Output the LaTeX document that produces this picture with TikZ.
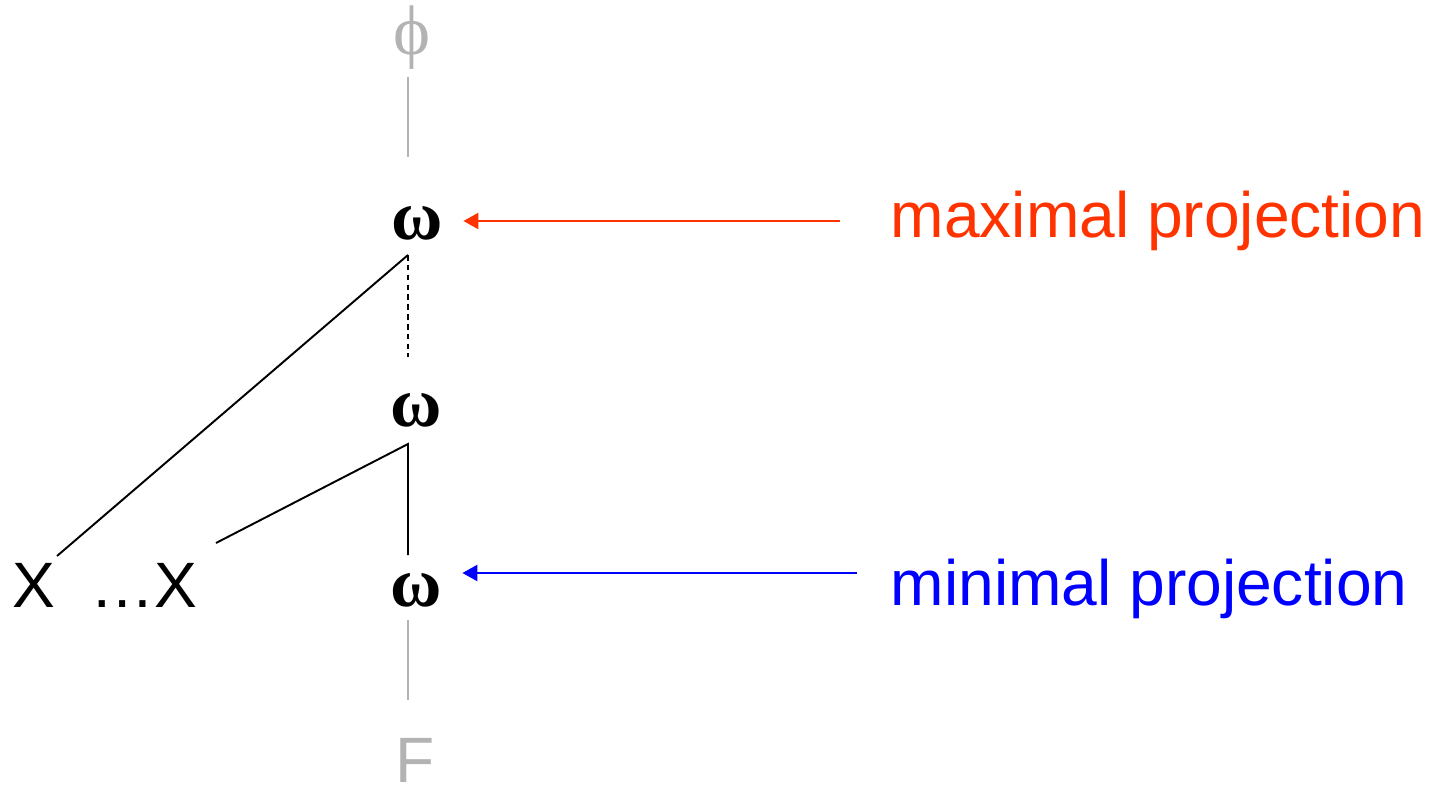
\documentclass[tikz,border=0pt]{standalone}
\usepackage{fontspec}
\setmainfont{Liberation Serif}
\setsansfont{Liberation Sans}
\usepackage{xcolor}
\usepackage{tikz}
\usetikzlibrary{arrows.meta,calc}
\definecolor{maxred}{HTML}{FF3300}
\definecolor{minblue}{HTML}{0000FF}
\definecolor{faint}{HTML}{B3B3B3}
\tikzset{
  cat/.style={inner sep=0pt, font=\bfseries\fontsize{20}{22}\selectfont},
  word/.style={inner sep=0pt, anchor=base west, font=\sffamily\fontsize{18.25}{22}\selectfont},
  branch/.style={line width=0.55pt, black},
  spine/.style={line width=0.7pt, faint},
  projflow/.style={-{Triangle[length=1.5mm, width=1.6mm]}, line width=0.7pt}
}

\begin{document}
\begin{tikzpicture}[x=1cm,y=1cm]
  \useasboundingbox (0,0) rectangle (14.31,7.90);

  \node[cat, text=faint, font=\fontsize{20}{22}\selectfont] (phi) at (4.12,7.52) {ϕ};
  \node[cat] (omtop) at (4.17,5.67) {ω};
  \node[cat] (ommid) at (4.16,3.80) {ω};
  \node[cat] (ombot) at (4.16,2.00) {ω};
  \node[word, anchor=base, text=faint] (eff) at (4.15,0.08) {F};
  \node[word] (xa) at (0.12,1.83) {X};
  \node[word] (xb) at (0.90,1.83) {…X};

  \node[word, text=maxred] (maxlab) at (8.90,5.53) {maximal projection};
  \node[word, text=minblue] (minlab) at (8.90,1.85) {minimal projection};

  \coordinate (phifoot) at (4.08,7.13);
  \coordinate (topcap) at (4.08,6.33);
  \coordinate (topjoin) at (4.08,5.35);
  \coordinate (dashend) at (4.08,4.33);
  \coordinate (midjoin) at (4.08,3.46);
  \coordinate (botcap) at (4.08,2.35);
  \coordinate (botfoot) at (4.08,1.70);
  \coordinate (efftop) at (4.08,0.90);
  \coordinate (xatip) at (0.57,2.34);
  \coordinate (xbtip) at (2.16,2.47);
  \coordinate (maxtail) at (8.40,5.69);
  \coordinate (mintail) at (8.57,2.17);

  % grey spine
  \draw[spine] (phifoot) -- (topcap);
  \draw[spine] (botfoot) -- (efftop);

  % tree
  \draw[branch, line width=0.75pt, dash pattern=on 1.6pt off 1.2pt] (topjoin) -- (dashend);
  \draw[branch] (topjoin) -- (xatip);
  \draw[branch] (xbtip) -- (midjoin) -- (botcap);

  % projection arrows
  \draw[projflow, maxred] (maxtail) -- ($(omtop.east |- maxtail)+(0.2,0)$);
  \draw[projflow, minblue] (mintail) -- ($(ombot.east |- mintail)+(0.2,0)$);
\end{tikzpicture}
\end{document}
